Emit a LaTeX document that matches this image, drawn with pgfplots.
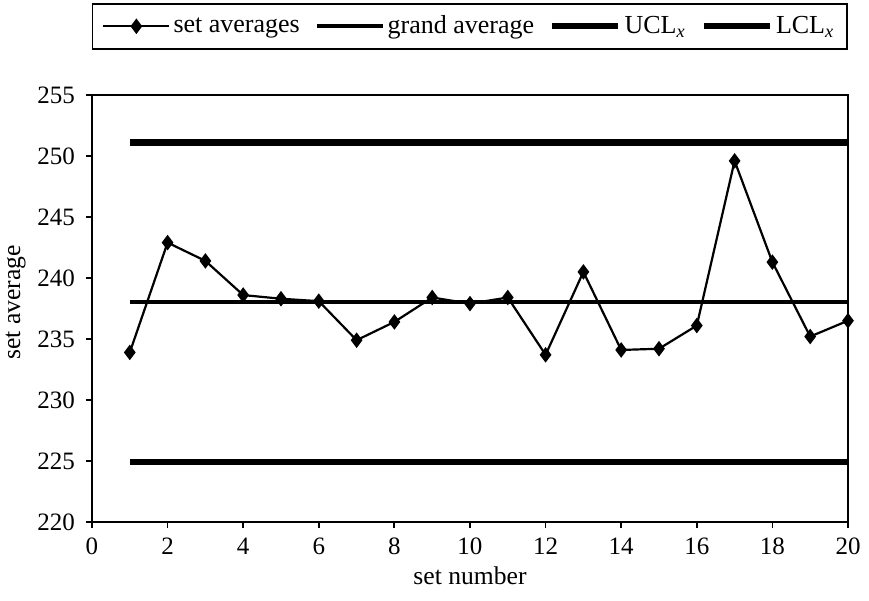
\documentclass[border=0pt]{standalone}
\usepackage{fontspec}
\setmainfont{Liberation Serif}
\usepackage{pgfplots}
\pgfplotsset{compat=1.18}
\pgfplotstableread{
n avg
1 233.9
2 242.9
3 241.4
4 238.6
5 238.3
6 238.1
7 234.9
8 236.4
9 238.4
10 237.9
11 238.4
12 233.7
13 240.5
14 234.1
15 234.2
16 236.1
17 249.6
18 241.3
19 235.2
20 236.5
}\avgtable
\begin{document}
\begin{tikzpicture}
\begin{axis}[
  name=ax,
  scale only axis,
  width=378pt, height=213.5pt,
  xmin=0, xmax=20, ymin=220, ymax=255,
  xtick={0,2,...,20}, ytick={220,225,...,255},
  tick align=outside, major tick length=3pt,
  tick style={black, line width=0.9pt},
  axis line style={line width=0.9pt},
  xtick pos=bottom, ytick pos=left,
  font=\fontsize{12.8}{15}\selectfont,
  /pgf/number format/assume math mode=true,
  ticklabel style={font=\fontsize{12.5}{14}\selectfont},
  yticklabel style={xshift=-2pt},
  xticklabel style={yshift=-1.5pt},
  xlabel={set number}, ylabel={set average},
  xlabel style={yshift=1pt},
  ylabel style={yshift=-1pt, xshift=3pt},
  legend columns=4,
  legend style={at={(1.0,1.2155)}, anchor=north east, draw=black, line width=0.8pt,
    font=\fontsize{13}{15}\selectfont, inner xsep=5pt, inner ysep=4pt,
    nodes={inner xsep=1.5pt, inner ysep=2pt},
    /tikz/every even column/.append style={column sep=6pt}},
  legend image code/.code={\draw[mark repeat=2,mark phase=2,#1] plot coordinates {(0pt,0pt) (16.5pt,0pt) (33pt,0pt)};},
]
\addplot[black, line width=1.1pt, mark=diamond*, mark size=3pt, mark options={solid}] table[x=n,y=avg]{\avgtable};
\addlegendentry{set averages}
\addplot[black, line width=1.9pt] coordinates {(1,238.0) (20,238.0)};
\addlegendentry{grand average}
\addplot[black, line width=3.2pt] coordinates {(1,251.1) (20,251.1)};
\addlegendentry{UCL\textsubscript{\textit{x}}}
\addplot[black, line width=3.2pt] coordinates {(1,224.9) (20,224.9)};
\addlegendentry{LCL\textsubscript{\textit{x}}}
\end{axis}
\pgfresetboundingbox
\path ([shift={(-46pt,-39.5pt)}]ax.south west) rectangle ([shift={(10.5pt,47.5pt)}]ax.north east);
\end{tikzpicture}
\end{document}
